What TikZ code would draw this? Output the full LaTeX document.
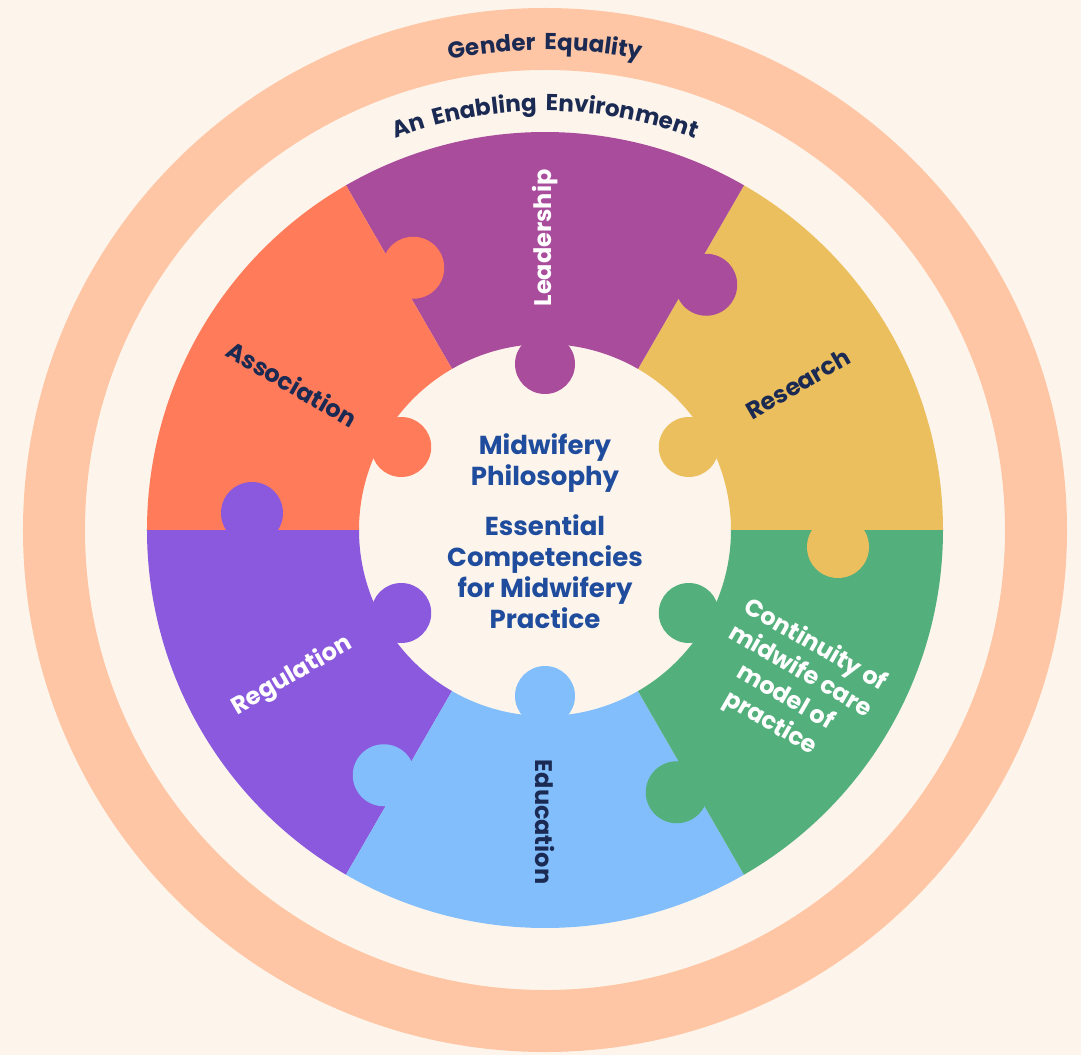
\documentclass[tikz,border=0pt]{standalone}
\usepackage{fontspec}
\setmainfont{Poppins}
\usetikzlibrary{decorations.text}

\definecolor{bgcream}{HTML}{FDF5EC}
\definecolor{ringpeach}{HTML}{FFC6A5}
\definecolor{navytxt}{HTML}{1B2A52}
\definecolor{centreblue}{HTML}{1F4C9C}
\definecolor{resyellow}{HTML}{ECBF5E}
\definecolor{leadpurple}{HTML}{A84C9B}
\definecolor{assocorange}{HTML}{FF7B5A}
\definecolor{regviolet}{HTML}{8A59DD}
\definecolor{edublue}{HTML}{82BEFC}
\definecolor{contgreen}{HTML}{53B07C}

\begin{document}
\begin{tikzpicture}[x=1pt, y=1pt,
    piecelabel/.style={font=\bfseries\fontsize{24}{30}\selectfont, align=center},
    darklabel/.style={piecelabel, text=navytxt},
    lightlabel/.style={piecelabel, text=white},
    centre/.style={font=\bfseries\fontsize{26}{31}\selectfont, text=centreblue, align=center},
    arctext/.style={decorate, decoration={text along path, text align=center,
        text={|\bfseries\fontsize{23}{23}\selectfont\fontdimen2\font=0.38em\color{navytxt}|#1}}}
]

% Background
\fill[bgcream] (-545,-525) rectangle (536,530);

% Outer rings
\fill[ringpeach, even odd rule] (0,0) circle[radius=522] circle[radius=460];
\path[arctext={Gender Equality}] (180:480) arc[start angle=180, end angle=0, radius=480];
\path[arctext={An Enabling Environment}] (180:419) arc[start angle=180, end angle=0, radius=419];

% Puzzle pieces
\foreach \a/\col in {0/resyellow, 60/leadpurple, 120/assocorange, 180/regviolet, 240/edublue, 300/contgreen}
    \fill[\col] (\a:186) -- (\a:398) arc[start angle=\a, end angle=\a+60, radius=398]
        -- (\a+60:186) arc[start angle=\a+60, end angle=\a, radius=186] -- cycle;

% Knobs: one into the next piece, one into the hole
\foreach \a/\col in {0/resyellow, 60/leadpurple, 120/assocorange, 180/regviolet, 240/edublue, 300/contgreen} {
    \fill[\col] (\a:293) ++(\a-90:17) circle[radius=31];
    \fill[\col] (\a+30:166) circle[radius=30];
}

% Piece labels
\node[lightlabel, rotate=90] (leadership) at (90:292) {Leadership};
\node[darklabel, rotate=30] (research) at (30:292) {Research};
\node[darklabel, rotate=-30] (association) at (150:292) {Association};
\node[lightlabel, rotate=30] (regulation) at (210:292) {Regulation};
\node[darklabel, rotate=-90] (education) at (270:292) {Education};
\node[lightlabel, rotate=-30] (continuity) at (328:292) {Continuity of\\midwife care\\model of\\practice};

% Centre
\node[centre] (philosophy) at (0,67) {Midwifery\\Philosophy};
\node[centre] (competencies) at (0,-42) {Essential\\Competencies\\for Midwifery\\Practice};

\end{tikzpicture}
\end{document}
